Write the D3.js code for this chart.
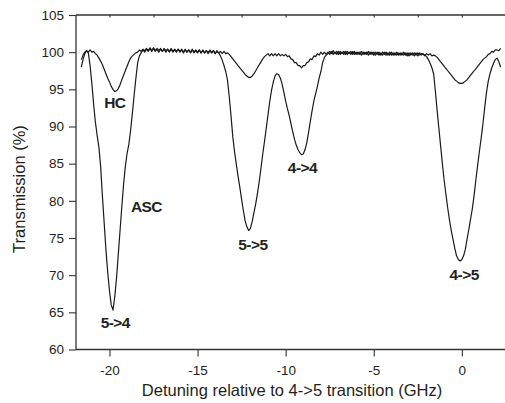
<!DOCTYPE html>
<html>
<head>
<meta charset="utf-8">
<script src="https://cdn.jsdelivr.net/npm/d3@7"></script>
<style>
  html, body { margin: 0; padding: 0; background: #fff; }
  svg { display: block; }
  text { font-family: "Liberation Sans", Arial, sans-serif; fill: #231f20; }
</style>
</head>
<body>
<svg id="chart" width="505" height="403"></svg>
<script>
// Detuning grid (GHz): one sample every 0.1 GHz from -21.6 to 2.2
const detuningStart = -21.6;
const detuningStep = 0.1;

// Transmission (%) through the anti-reflection/absorption cell (ASC)
const ascTransmission = [
  98.0, 99.0, 99.8, 100.2, 99.9, 98.2, 95.8, 93.0, 90.6, 88.8,
  87.2, 84.6, 80.6, 77.0, 73.4, 70.4, 67.9, 66.0, 65.3, 67.1,
  69.6, 72.8, 76.0, 79.2, 82.2, 84.6, 86.4, 87.6, 89.5, 91.8,
  94.2, 96.5, 98.6, 99.5, 99.9, 100.3, 100.0, 100.4, 100.1, 100.5,
  100.1, 100.5, 100.1, 100.4, 100.0, 100.4, 100.1, 100.4, 100.0, 100.4,
  100.0, 100.4, 100.0, 100.3, 100.0, 100.4, 100.0, 100.3, 99.9, 100.3,
  100.0, 100.3, 99.9, 100.3, 99.9, 100.2, 99.9, 100.3, 99.9, 100.2,
  99.9, 100.2, 99.8, 100.2, 99.9, 100.2, 99.8, 100.1, 99.9, 99.5,
  98.9, 98.2, 97.4, 96.2, 94.0, 91.4, 88.6, 86.6, 84.9, 83.3,
  81.8, 80.2, 78.7, 77.3, 76.5, 76.0, 76.3, 77.2, 78.4, 79.6,
  81.0, 82.6, 84.4, 86.3, 88.0, 89.8, 91.6, 93.4, 94.9, 96.0,
  96.8, 97.1, 97.0, 96.5, 95.7, 94.6, 93.4, 92.4, 91.5, 90.4,
  89.3, 88.3, 87.5, 86.9, 86.5, 86.2, 86.3, 86.9, 87.8, 89.2,
  90.7, 92.1, 93.4, 94.4, 95.4, 96.5, 97.4, 98.6, 99.3, 99.6,
  99.8, 100.1, 99.8, 100.2, 99.8, 100.1, 99.7, 100.1, 99.8, 100.1,
  99.7, 100.1, 99.8, 100.1, 99.7, 100.1, 99.7, 100.0, 99.7, 100.1,
  99.7, 100.0, 99.7, 100.1, 99.7, 100.0, 99.6, 100.0, 99.7, 100.0,
  99.6, 100.0, 99.7, 100.0, 99.6, 100.0, 99.6, 99.9, 99.6, 100.0,
  99.6, 99.9, 99.6, 100.0, 99.6, 99.9, 99.5, 99.9, 99.6, 99.9,
  99.6, 99.9, 99.6, 99.8, 99.7, 99.6, 99.4, 99.0, 98.5, 97.9,
  97.1, 94.7, 92.1, 89.7, 87.3, 84.9, 82.7, 80.8, 79.0, 77.4,
  76.0, 74.8, 73.6, 72.6, 72.1, 71.9, 72.1, 72.6, 73.5, 74.9,
  76.2, 77.6, 79.0, 80.8, 82.9, 84.8, 86.7, 88.5, 90.4, 92.6,
  94.6, 96.1, 97.1, 97.9, 98.5, 99.0, 99.2, 98.7, 98.0
];

// Transmission (%) through the heated reference cell (HC)
const hcTransmission = [
  99.0, 99.6, 100.0, 100.2, 100.0, 100.3, 100.0, 100.1, 99.8, 99.6,
  99.2, 98.8, 98.3, 97.7, 97.1, 96.5, 96.0, 95.4, 95.0, 94.7,
  94.8, 95.1, 95.6, 96.3, 96.9, 97.5, 98.1, 98.7, 99.2, 99.5,
  99.7, 99.9, 100.0, 100.3, 100.1, 100.4, 100.2, 100.5, 100.2, 100.6,
  100.2, 100.6, 100.2, 100.5, 100.2, 100.5, 100.1, 100.5, 100.2, 100.4,
  100.1, 100.5, 100.1, 100.4, 100.1, 100.4, 100.1, 100.4, 100.0, 100.4,
  100.0, 100.3, 100.0, 100.4, 100.0, 100.3, 100.0, 100.3, 99.9, 100.3,
  99.9, 100.2, 99.9, 100.3, 99.9, 100.2, 99.8, 100.2, 99.9, 100.1,
  99.8, 100.1, 99.8, 99.9, 99.7, 99.4, 99.1, 98.8, 98.5, 98.2,
  97.9, 97.6, 97.3, 97.0, 96.8, 96.6, 96.6, 96.8, 97.1, 97.5,
  97.9, 98.3, 98.7, 99.1, 99.4, 99.6, 99.8, 99.5, 99.8, 99.5,
  99.8, 99.5, 99.8, 99.5, 99.7, 99.5, 99.7, 99.4, 99.5, 99.1,
  99.0, 98.6, 98.6, 98.2, 98.2, 97.9, 98.2, 98.2, 98.6, 98.7,
  99.1, 99.0, 99.5, 99.4, 99.8, 99.6, 100.0, 99.7, 100.0, 99.7,
  100.0, 99.7, 100.1, 99.7, 100.0, 99.7, 100.1, 99.7, 100.0, 99.7,
  100.1, 99.7, 100.0, 99.7, 100.1, 99.7, 100.0, 99.7, 100.0, 99.6,
  100.0, 99.7, 100.0, 99.6, 100.0, 99.7, 100.0, 99.6, 100.0, 99.6,
  99.9, 99.6, 100.0, 99.6, 99.9, 99.6, 100.0, 99.6, 99.9, 99.6,
  99.9, 99.6, 99.9, 99.6, 99.9, 99.5, 99.9, 99.6, 99.9, 99.5,
  99.9, 99.5, 99.9, 99.6, 99.8, 99.5, 99.8, 99.6, 99.8, 99.5,
  99.6, 99.5, 99.3, 99.0, 98.7, 98.4, 98.1, 97.8, 97.5, 97.2,
  96.9, 96.6, 96.3, 96.1, 95.9, 95.8, 95.8, 95.9, 96.1, 96.3,
  96.6, 96.9, 97.2, 97.5, 97.8, 98.1, 98.4, 98.7, 99.0, 99.2,
  99.4, 99.7, 99.8, 100.1, 100.0, 100.3, 100.3, 100.2, 100.5
];

// Axis ticks
const xMajorTicks = [-20, -15, -10, -5, 0];
const xMinorTicks = [-17.5, -12.5, -7.5, -2.5];
const yMajorTicks = [60, 65, 70, 75, 80, 85, 90, 95, 100, 105];
const yMinorTicks = [62.5, 67.5, 72.5, 77.5, 82.5, 87.5, 92.5, 97.5, 102.5];

// Peak and curve annotations, anchored in data units
const annotationText = ["HC", "ASC", "5->4", "5->5", "4->4", "4->5"];
const annotationDetuning = [-19.7, -17.9, -19.67, -11.86, -9.05, 0.13];
const annotationTransmission = [92.5, 78.5, 62.9, 73.4, 83.75, 69.35];

const xTitle = "Detuning relative to 4->5 transition (GHz)";
const yTitle = "Transmission (%)";

// ---- layout ----
const svg = d3.select("#chart");
const plot = { left: 76, right: 505, top: 15, bottom: 349.5 };

const x = d3.scaleLinear().domain([-21.9, 2.45]).range([plot.left, plot.right]);
const y = d3.scaleLinear().domain([60, 105]).range([plot.bottom, plot.top]);

const detuning = ascTransmission.map((_, i) => +(detuningStart + i * detuningStep).toFixed(2));

// plain hyphen-minus for negative tick labels
const tickLabel = d => String(d);

svg.append("defs").append("clipPath").attr("id", "plot-clip")
  .append("rect")
  .attr("x", plot.left).attr("y", plot.top)
  .attr("width", plot.right - plot.left).attr("height", plot.bottom - plot.top);

// ---- curves ----
const line = d3.line()
  .x(d => x(d[0]))
  .y(d => y(d[1]));

const curves = svg.append("g").attr("clip-path", "url(#plot-clip)");
[ascTransmission, hcTransmission].forEach(series => {
  curves.append("path")
    .datum(series.map((t, i) => [detuning[i], t]))
    .attr("fill", "none")
    .attr("stroke", "#1a1a1a")
    .attr("stroke-width", 1.2)
    .attr("stroke-linejoin", "round")
    .attr("d", line);
});

// ---- axes ----
const axisColor = "#333";

// bottom axis
const bottomAxis = svg.append("g").attr("transform", `translate(0,${plot.bottom})`);
bottomAxis.call(d3.axisBottom(x).tickValues(xMinorTicks).tickSize(3.5).tickFormat(""));
bottomAxis.call(d3.axisBottom(x).tickValues(xMajorTicks).tickSize(7).tickPadding(9).tickFormat(tickLabel));

// top axis (ticks only, pointing inward)
const topAxis = svg.append("g").attr("transform", `translate(0,${plot.top})`);
topAxis.call(d3.axisBottom(x).tickValues(xMajorTicks.concat(xMinorTicks)).tickSize(2.5).tickFormat(""));

// left axis
const leftAxis = svg.append("g").attr("transform", `translate(${plot.left},0)`);
leftAxis.call(d3.axisLeft(y).tickValues(yMinorTicks).tickSize(3.5).tickFormat(""));
leftAxis.call(d3.axisLeft(y).tickValues(yMajorTicks).tickSize(7).tickPadding(5).tickFormat(tickLabel));

svg.selectAll(".domain").remove();
svg.selectAll(".tick line").attr("stroke", axisColor).attr("stroke-width", 1.1);
svg.selectAll(".tick text")
  .attr("font-family", "'Liberation Sans', Arial, sans-serif")
  .attr("font-size", 13.5)
  .attr("fill", "#231f20");

// frame lines: left, bottom, top
const frame = svg.append("g").attr("stroke", axisColor).attr("stroke-width", 1.3);
frame.append("line").attr("x1", plot.left).attr("x2", plot.left).attr("y1", plot.top).attr("y2", plot.bottom);
frame.append("line").attr("x1", plot.left).attr("x2", plot.right).attr("y1", plot.bottom).attr("y2", plot.bottom);
frame.append("line").attr("x1", plot.left).attr("x2", plot.right).attr("y1", plot.top).attr("y2", plot.top);

// ---- titles ----
svg.append("text")
  .attr("x", 292).attr("y", 396)
  .attr("text-anchor", "middle")
  .attr("font-size", 16.5)
  .text(xTitle);

svg.append("text")
  .attr("transform", "translate(25,189) rotate(-90)")
  .attr("text-anchor", "middle")
  .attr("font-size", 16.5)
  .text(yTitle);

// ---- annotations ----
svg.append("g").selectAll("text")
  .data(annotationText)
  .join("text")
  .attr("x", (d, i) => x(annotationDetuning[i]))
  .attr("y", (d, i) => y(annotationTransmission[i]))
  .attr("text-anchor", "middle")
  .attr("font-size", 15.5)
  .attr("font-weight", "bold")
  .attr("letter-spacing", -0.6)
  .text(d => d);
</script>
</body>
</html>
